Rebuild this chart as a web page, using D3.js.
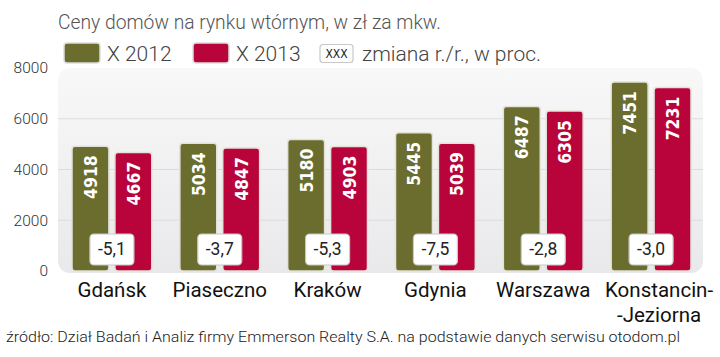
<!DOCTYPE html>
<html><head><meta charset="utf-8">
<script src="https://cdn.jsdelivr.net/npm/d3@7"></script>
<style>body{margin:0;background:#fff}svg{display:block}</style>
</head><body>
<script>
const categories = ["Gdańsk","Piaseczno","Kraków","Gdynia","Warszawa","Konstancin-\n-Jeziorna"];
const values2012 = [4918,5034,5180,5445,6487,7451];
const values2013 = [4667,4847,4903,5039,6305,7231];
const changes = ["-5,1","-3,7","-5,3","-7,5","-2,8","-3,0"];
const yTicks = [0,2000,4000,6000,8000];
const seriesNames = ["X 2012","X 2013"];
const colors = ["#6a6d2e","#b8043a"];

const W=720,H=357;
const svg=d3.select("body").append("svg").attr("width",W).attr("height",H);
const defs=svg.append("defs");
const grad=defs.append("linearGradient").attr("id","bg").attr("x1",0).attr("x2",0).attr("y1",0).attr("y2",1);
grad.append("stop").attr("offset","0%").attr("stop-color","#f8f8f9");
grad.append("stop").attr("offset","100%").attr("stop-color","#e9e9eb");

const x=d3.scaleBand().domain(categories).range([58,705]).paddingInner(0.26).paddingOuter(0.13);
const y=d3.scaleLinear().domain([0,8000]).range([271,68]);
const xs=d3.scaleBand().domain([0,1]).range([0,x.bandwidth()]).paddingInner(0.14);

// panel
svg.append("rect").attr("x",58).attr("y",y(8000)).attr("width",645).attr("height",y(0)-y(8000)+2)
  .attr("rx",12).attr("fill","url(#bg)");
// grid
svg.append("g").selectAll("line").data([2000,4000,6000]).join("line")
  .attr("x1",58).attr("x2",703).attr("y1",d=>y(d)).attr("y2",d=>y(d))
  .attr("stroke","#dcdcdc").attr("stroke-width",1);

// y axis
const ya=svg.append("g").attr("transform","translate(50,0)")
  .call(d3.axisLeft(y).tickValues(yTicks).tickFormat(d3.format("d")).tickSize(0).tickPadding(2));
ya.select(".domain").remove();
ya.selectAll("text").attr("font-family","Roboto, sans-serif").attr("font-weight",300).attr("font-size",15.5).attr("fill","#333");

// bars
const series=[values2012,values2013];
const g=svg.append("g");
series.forEach((vals,si)=>{
  const bg=g.append("g");
  bg.selectAll("rect").data(vals).join("rect")
    .attr("x",(d,i)=>x(categories[i])+xs(si))
    .attr("y",d=>y(d))
    .attr("width",xs.bandwidth())
    .attr("height",d=>y(0)-y(d))
    .attr("rx",3)
    .attr("fill",colors[si]).attr("stroke","#e2e2d8").attr("stroke-width",1.5);
  bg.selectAll("text").data(vals).join("text")
    .attr("transform",(d,i)=>`translate(${x(categories[i])+xs(si)+xs.bandwidth()/2+6.5},${y(d)+9}) rotate(-90)`)
    .attr("text-anchor","end")
    .attr("font-family","'DejaVu Sans Condensed','DejaVu Sans',sans-serif")
    .attr("font-weight","bold").attr("font-size",17.5).attr("fill","#fff")
    .text(d=>d);
});

// change boxes
const cg=svg.append("g").selectAll("g").data(changes).join("g")
  .attr("transform",(d,i)=>`translate(${x(categories[i])+x.bandwidth()/2},249)`);
cg.append("rect").attr("x",-22).attr("y",-15).attr("width",44).attr("height",31).attr("rx",4)
  .attr("fill","#fff").attr("stroke","#c8c8c8").attr("stroke-width",1.2);
cg.append("text").attr("text-anchor","middle").attr("dy","0.36em")
  .attr("font-family","Roboto, sans-serif").attr("font-size",17.5).attr("fill","#222").text(d=>d);

// x labels
const xl=svg.append("g").selectAll("text").data(categories).join("text")
  .attr("x",d=>x(d)+x.bandwidth()/2+(d.includes("\n")?8:0)).attr("y",297)
  .attr("text-anchor","middle").attr("font-family","Roboto, sans-serif").attr("font-size",20.5).attr("fill","#111");
xl.each(function(d){
  const lines=d.split("\n");
  d3.select(this).selectAll("tspan").data(lines).join("tspan")
    .attr("x",d3.select(this).attr("x")).attr("dy",(l,i)=>i?25:0).text(l=>l);
});

// title
svg.append("text").attr("x",58).attr("y",29).attr("font-family","Roboto, sans-serif").attr("font-weight",300)
  .attr("font-size",19.3).attr("fill","#555").text("Ceny domów na rynku wtórnym, w zł za mkw.");

// legend
const lg=svg.append("g");
const lx=[64,193];
seriesNames.forEach((n,i)=>{
  lg.append("rect").attr("x",lx[i]).attr("y",43).attr("width",36).attr("height",20).attr("rx",3)
    .attr("fill",colors[i]).attr("stroke","#ddd").attr("stroke-width",1.5);
  lg.append("text").attr("x",lx[i]+43).attr("y",61).attr("font-family","Roboto, sans-serif").attr("font-weight",300)
    .attr("font-size",21).attr("fill","#444").text(n);
});
lg.append("rect").attr("x",320).attr("y",44.5).attr("width",33).attr("height",18).attr("rx",3)
  .attr("fill","#fff").attr("stroke","#c8c8c8").attr("stroke-width",1.2);
lg.append("text").attr("x",336.5).attr("y",58).attr("text-anchor","middle").attr("font-family","'DejaVu Sans Condensed',sans-serif")
  .attr("font-size",12).attr("fill","#222").text("XXX");
lg.append("text").attr("x",362).attr("y",61).attr("font-family","Roboto, sans-serif").attr("font-weight",300)
  .attr("font-size",21).attr("fill","#444").text("zmiana r./r., w proc.");

// source
svg.append("text").attr("x",6).attr("y",342).attr("font-family","Roboto,sans-serif").attr("font-weight",300)
  .attr("font-size",15.5).attr("fill","#222").attr("textLength",674).attr("lengthAdjust","spacingAndGlyphs")
  .text("źródło: Dział Badań i Analiz firmy Emmerson Realty S.A. na podstawie danych serwisu otodom.pl");
</script>
</body></html>
